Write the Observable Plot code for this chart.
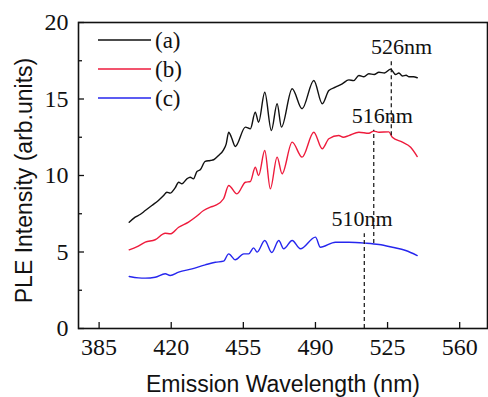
<!DOCTYPE html>
<html>
<head>
<meta charset="utf-8">
<script src="https://cdn.jsdelivr.net/npm/d3@7"></script>
<script src="https://cdn.jsdelivr.net/npm/@observablehq/plot@0.6"></script>
<style>
  html, body { margin: 0; padding: 0; background: #fff; }
  #chart { width: 488px; height: 397px; }
</style>
</head>
<body>
<div id="chart"></div>
<script>
// ---- data ----
const seriesNames = ["(a)", "(b)", "(c)"];
const seriesColors = ["#111111", "#ee1b3c", "#2626ee"];

const aX = [399.6,402.5,404.9,407.4,410.6,413.8,416.3,417.9,419.5,421.9,423.6,425.2,427.6,429.2,430.8,432.5,434.1,436.5,438.9,440.6,443.0,445.4,446.7,447.9,449.2,451.1,456.0,458.4,460.8,462.4,465.4,468.6,471.4,473.5,478.7,483.5,489.2,493.3,496.5,499.7,503.0,506.2,508.5,511.1,513.5,515.9,518.5,520.8,523.5,526.5,528.9,530.5,532.2,534.0,535.4,537.5,539.4];
const aY = [6.95,7.28,7.45,7.71,8.04,8.37,8.69,8.91,8.85,9.19,9.56,9.46,9.78,9.89,9.78,10.26,10.37,10.92,10.98,11.03,11.31,11.68,12.07,12.83,12.5,11.9,13.16,13.05,14.14,13.48,15.44,12.94,14.69,13.16,15.67,14.36,16.21,14.69,15.56,15.77,15.99,16.25,16.2,16.54,16.45,16.65,16.6,16.75,16.7,16.95,16.6,16.7,16.5,16.55,16.45,16.45,16.39];

const bX = [399.6,403.5,407.4,412.2,417.1,419.5,423.6,428.4,432.0,435.7,439.0,441.4,445.4,447.9,451.9,456.0,458.4,460.8,462.4,465.4,468.1,471.4,473.8,478.7,483.5,489.2,493.3,496.5,501.3,503.5,506.2,511.1,515.9,518.3,520.8,525.6,527.3,532.2,536.2,539.4];
const bY = [5.14,5.35,5.64,5.80,6.23,6.19,6.62,6.95,7.3,7.71,7.93,8.04,8.48,9.35,8.80,9.56,9.61,10.54,10.0,11.63,9.13,11.2,10.11,12.18,11.2,12.83,11.75,12.4,12.61,12.5,12.61,12.83,12.76,12.9,12.83,12.85,12.5,12.18,11.85,11.24];

const cX = [399.6,404.1,407.4,412.2,417.1,419.5,423.6,430.1,436.5,441.4,445.4,447.9,451.1,455.2,457.6,460.0,461.7,465.4,468.8,472.2,474.6,478.7,482.7,490.0,492.4,499.7,506.2,514.3,520.8,527.3,533.8,539.4];
const cY = [3.40,3.31,3.29,3.35,3.58,3.46,3.68,3.90,4.16,4.33,4.40,4.88,4.49,4.88,4.88,5.27,4.99,5.75,4.97,5.75,5.21,5.75,5.21,5.97,5.31,5.64,5.64,5.58,5.49,5.31,5.10,4.77];

const xTicks = [385, 420, 455, 490, 525, 560];
const yTicks = [0, 5, 10, 15, 20];
const yMinorTicks = [2.5, 7.5, 12.5, 17.5];

// peak markers: label, x of dashed line, y range, label position
const peakLabels = ["526nm", "516nm", "510nm"];
const peakLineX = [526.8, 518.3, 513.7];
const peakLineY1 = [12.6, 5.55, 0];
const peakLineY2 = [17.55, 12.95, 6.2];
const peakTextX = [531.8, 522.4, 512.6];
const peakTextY = [17.95, 13.45, 6.7];

// ---- build tables ----
const allX = [aX, bX, cX], allY = [aY, bY, cY];
const rows = [];
seriesNames.forEach((s, k) => allX[k].forEach((x, i) => rows.push({series: s, x, y: allY[k][i]})));
const peaks = peakLabels.map((label, i) => ({label, lx: peakLineX[i], y1: peakLineY1[i], y2: peakLineY2[i], tx: peakTextX[i], ty: peakTextY[i]}));

const W = 488, H = 397, mL = 78, mT = 22, mR = 1, mB = 69;
const plotW = W - mL - mR, plotH = H - mT - mB;
const serif = "Liberation Serif, Times New Roman, serif";
const sans = "Liberation Sans, Arial, sans-serif";

const chart = Plot.plot({
  width: W, height: H,
  marginLeft: mL, marginTop: mT, marginRight: mR, marginBottom: mB,
  style: {background: "#fff", color: "#111", fontFamily: serif},
  x: {domain: [375, 573.5], axis: null},
  y: {domain: [0, 20], axis: null},
  color: {domain: seriesNames, range: seriesColors},
  marks: [
    Plot.line(rows, {x: "x", y: "y", z: "series", stroke: "series", strokeWidth: 1.4, curve: "monotone-x"}),
    Plot.ruleX(peaks, {x: "lx", y1: "y1", y2: "y2", stroke: "#111", strokeWidth: 1.2, strokeDasharray: "4,3"}),
    Plot.text(peaks, {x: "tx", y: "ty", text: "label", lineAnchor: "bottom", fontSize: 22, fontFamily: serif, fill: "#111"}),
    // inward tick marks
    Plot.tickX(xTicks, {x: d => d, insetTop: plotH - 6, stroke: "#111", strokeWidth: 1.3}),
    Plot.tickY(yTicks, {y: d => d, insetRight: plotW - 6, stroke: "#111", strokeWidth: 1.3}),
    Plot.tickY(yMinorTicks, {y: d => d, insetRight: plotW - 4, stroke: "#111", strokeWidth: 1.3}),
    // tick labels (serif)
    Plot.text(xTicks, {x: d => d, text: d => String(d), frameAnchor: "bottom", lineAnchor: "top", dy: 9, fontSize: 24, fontFamily: serif, fill: "#111"}),
    Plot.text(yTicks, {y: d => d, text: d => String(d), frameAnchor: "left", textAnchor: "end", dx: -10, fontSize: 24, fontFamily: serif, fill: "#111"}),
    Plot.frame({stroke: "#111", strokeWidth: 1.6}),
    // axis titles
    Plot.text(["Emission Wavelength (nm)"], {text: d => d, frameAnchor: "bottom", dy: 63, lineAnchor: "bottom", textAnchor: "middle", fontSize: 23, fontFamily: sans, fill: "#111"}),
    Plot.text(["PLE Intensity (arb.units)"], {text: d => d, frameAnchor: "left", dx: -47, dy: 5, rotate: -90, lineAnchor: "bottom", textAnchor: "middle", fontSize: 23, fontFamily: sans, fill: "#111"})
  ]
});
document.getElementById("chart").appendChild(chart);

// legend (line swatches + labels) inside the plot frame
const svg = d3.select(chart);
const lg = svg.append("g").attr("class", "legend").attr("text-anchor", "start");
seriesNames.forEach((s, i) => {
  const yy = 40 + i * 29;
  lg.append("line").attr("x1", 98).attr("x2", 151).attr("y1", yy).attr("y2", yy)
    .attr("stroke", seriesColors[i]).attr("stroke-width", 1.4);
  lg.append("text").attr("x", 155).attr("y", yy).attr("dy", "0.33em")
    .attr("text-anchor", "start")
    .attr("font-family", serif).attr("font-size", 23).attr("fill", "#111").text(s);
});
</script>
</body>
</html>
